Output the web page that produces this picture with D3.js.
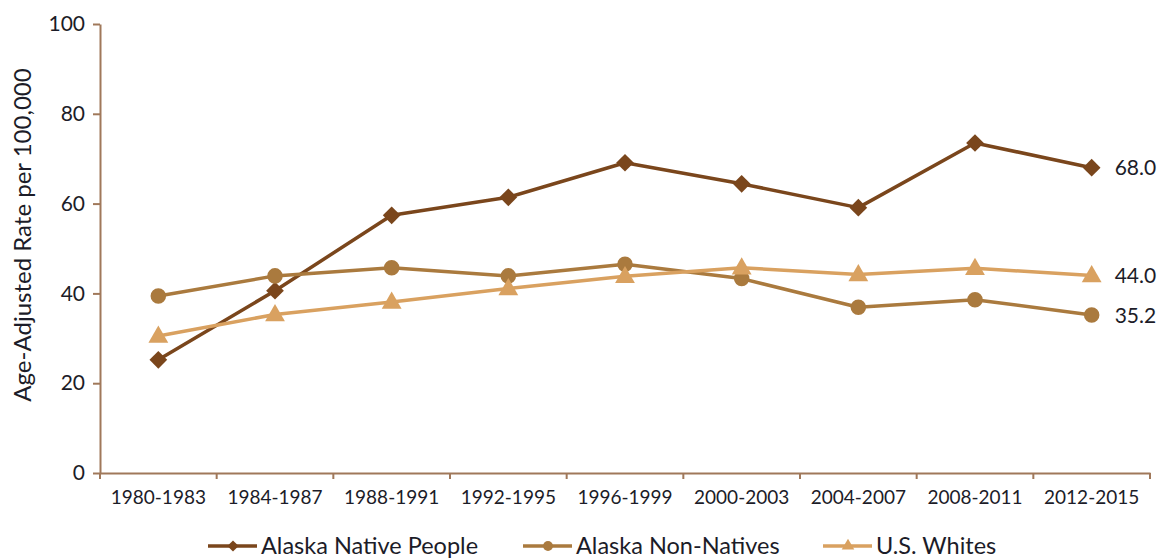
<!DOCTYPE html>
<html lang="en">
  <head>
    <meta charset="utf-8">
    <title>Age-Adjusted Rate per 100,000</title>
    <style>
      body { margin: 0; background: #fff; }
      svg, svg text { font-family: Lato, "Open Sans", sans-serif; }
      .axis path, .axis line { stroke: #a0785a; stroke-width: 2; }
      .axis text { fill: #1c1c28; }
    </style>
  </head>
  <body>
    <svg width="1164" height="560"></svg>
    <script src="https://d3js.org/d3.v7.min.js"></script>
    <script>
      // values
      var periods = ["1980-1983","1984-1987","1988-1991","1992-1995","1996-1999","2000-2003","2004-2007","2008-2011","2012-2015"];
      var nativeRates = [25.2, 40.6, 57.4, 61.4, 69.1, 64.4, 59.1, 73.5, 68.0];
      var nonNativeRates = [39.4, 43.9, 45.7, 43.9, 46.5, 43.3, 36.9, 38.6, 35.2];
      var whiteRates = [30.5, 35.3, 38.1, 41.1, 43.8, 45.7, 44.2, 45.6, 44.0];
      var yTicks = [0, 20, 40, 60, 80, 100];

      var series = [
        {name: "Alaska Native People", values: nativeRates, color: "#7a461c", symbol: d3.symbolDiamond2, size: 200, legendX: 208},
        {name: "Alaska Non-Natives", values: nonNativeRates, color: "#aa7a3e", symbol: d3.symbolCircle, size: 190, legendX: 523},
        {name: "U.S. Whites", values: whiteRates, color: "#d9a160", symbol: d3.symbolTriangle, size: 170, legendX: 823}
      ];

      var svg = d3.select("svg");
      var mLeft = 100, mRight = 1150, mTop = 24, mBottom = 473;

      var x = d3.scaleBand().domain(periods).range([mLeft, mRight]);
      var y = d3.scaleLinear().domain([0, 100]).range([mBottom, mTop]);

      // y axis
      var yg = svg.append("g")
        .attr("class", "axis")
        .attr("transform", "translate(" + mLeft + ",0)")
        .call(d3.axisLeft(y).tickValues(yTicks).tickSize(7).tickSizeOuter(0).tickPadding(8))
        .attr("font-family", null);
      yg.selectAll("text").style("font-size", "21px");

      // x axis, labels only
      var xg = svg.append("g")
        .attr("class", "axis")
        .attr("transform", "translate(0," + mBottom + ")")
        .call(d3.axisBottom(x).tickSize(0).tickSizeOuter(0).tickPadding(18))
        .attr("font-family", null);
      xg.selectAll("text").style("font-size", "19px");
      xg.selectAll(".tick line").remove();

      // ticks between the categories
      var bounds = periods.map(function(p){ return x(p); }).concat([x.range()[1]]);
      xg.selectAll("line.bound")
        .data(bounds)
        .enter()
        .append("line")
        .attr("class", "bound")
        .attr("x1", function(d){ return d; })
        .attr("x2", function(d){ return d; })
        .attr("y1", 0)
        .attr("y2", 6);

      svg.append("text")
        .attr("transform", "translate(31,235) rotate(-90)")
        .attr("text-anchor", "middle")
        .attr("fill", "#1c1c28")
        .style("font-size", "24px")
        .text("Age-Adjusted Rate per 100,000");

      var cx = function(i){ return x(periods[i]) + x.bandwidth() / 2; };
      var line = d3.line()
        .x(function(d, i){ return cx(i); })
        .y(function(d){ return y(d); });

      series.forEach(function(s) {
        svg.append("path")
          .datum(s.values)
          .attr("fill", "none")
          .attr("stroke", s.color)
          .attr("stroke-width", 3.5)
          .attr("stroke-linejoin", "round")
          .attr("d", line);

        svg.append("g")
          .selectAll("path")
          .data(s.values)
          .enter()
          .append("path")
          .attr("d", d3.symbol().type(s.symbol).size(s.size))
          .attr("transform", function(d, i){
            var off = s.symbol === d3.symbolTriangle ? 1 : 0;
            return "translate(" + cx(i) + "," + (y(d) + off) + ")";
          })
          .attr("fill", s.color);

        var last = s.values.length - 1;
        svg.append("text")
          .attr("x", cx(last) + 23)
          .attr("y", y(s.values[last]))
          .attr("dy", "0.36em")
          .attr("fill", "#1c1c28")
          .style("font-size", "21px")
          .text(s.values[last].toFixed(1));
      });

      // legend
      var legend = svg.append("g").attr("transform", "translate(0,546)");
      series.forEach(function(s) {
        legend.append("line")
          .attr("x1", s.legendX)
          .attr("x2", s.legendX + 49)
          .attr("stroke", s.color)
          .attr("stroke-width", 3.5);
        legend.append("path")
          .attr("d", d3.symbol().type(s.symbol).size(s.size * 0.4))
          .attr("transform", "translate(" + (s.legendX + 25) + ",0)")
          .attr("fill", s.color);
        legend.append("text")
          .attr("x", s.legendX + 53)
          .attr("dy", "0.36em")
          .attr("fill", "#1c1c28")
          .style("font-size", "23.5px")
          .text(s.name);
      });
    </script>
  </body>
</html>
